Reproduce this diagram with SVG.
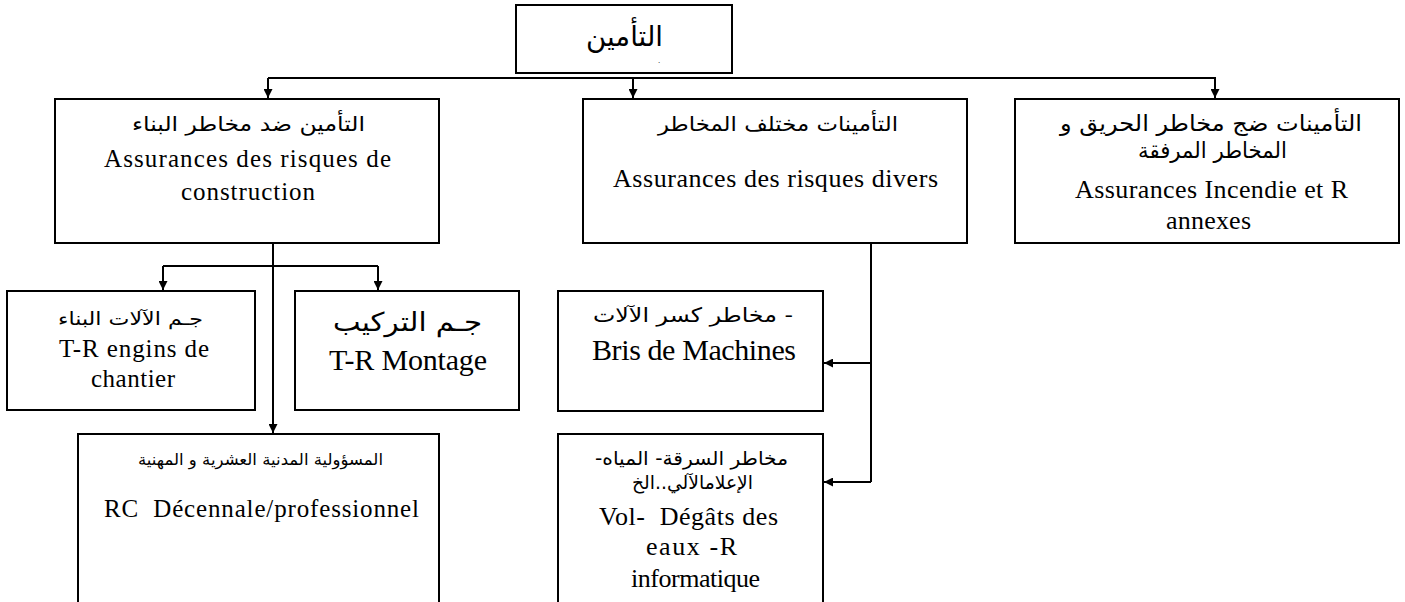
<svg xmlns="http://www.w3.org/2000/svg" width="1405" height="602" viewBox="0 0 1405 602">
<style>
.box{fill:#fff;stroke:#000;stroke-width:2}
.ln{fill:none;stroke:#000;stroke-width:2}
.fr{font-family:"Liberation Serif","Times New Roman",serif;fill:#000;text-anchor:middle;white-space:pre}
.ar{font-family:"DejaVu Sans","Noto Sans",sans-serif;fill:#000;text-anchor:middle;direction:rtl;unicode-bidi:embed}
</style>
<defs>
<marker id="ah" markerUnits="userSpaceOnUse" markerWidth="10" markerHeight="9" refX="9" refY="4.5" orient="auto">
<path d="M0,0 L9,4.5 L0,9 z" fill="#000"/>
</marker>
</defs>
<rect width="1405" height="602" fill="#fff"/>

<g id="connectors">
<path class="ln" d="M268,78 H1216"/>
<path class="ln" d="M268,78 V98" marker-end="url(#ah)"/>
<path class="ln" d="M633,78 V98" marker-end="url(#ah)"/>
<path class="ln" d="M1215,78 V98" marker-end="url(#ah)"/>
<path class="ln" d="M273,243 V433" marker-end="url(#ah)"/>
<path class="ln" d="M163,266 H378"/>
<path class="ln" d="M163,266 V290" marker-end="url(#ah)"/>
<path class="ln" d="M378,266 V290" marker-end="url(#ah)"/>
<path class="ln" d="M871,243 V482"/>
<path class="ln" d="M871,363 H824" marker-end="url(#ah)"/>
<path class="ln" d="M871,482 H824" marker-end="url(#ah)"/>
</g>

<g id="root">
<rect class="box" x="516" y="5" width="216" height="68"/>
<text class="ar" x="624.5" y="46" font-size="28" textLength="77" lengthAdjust="spacingAndGlyphs">التأمين</text>
<text x="658" y="63" font-family="Liberation Sans, sans-serif" font-size="8" fill="#000">.</text>
</g>

<g id="construction">
<rect class="box" x="55" y="99" width="384" height="144"/>
<text class="ar" x="248.5" y="131" font-size="20" textLength="233" lengthAdjust="spacingAndGlyphs">التأمين ضد مخاطر البناء</text>
<text class="fr" x="247.5" y="167" font-size="25" textLength="287" lengthAdjust="spacing">Assurances des risques de</text>
<text class="fr" x="248" y="200" font-size="25" textLength="134" lengthAdjust="spacing">construction</text>
</g>

<g id="divers">
<rect class="box" x="583" y="99" width="384" height="144"/>
<text class="ar" x="778" y="131" font-size="20" textLength="240" lengthAdjust="spacingAndGlyphs">التأمينات مختلف المخاطر</text>
<text class="fr" x="775.5" y="187" font-size="26" textLength="325" lengthAdjust="spacing">Assurances des risques divers</text>
</g>

<g id="incendie">
<rect class="box" x="1015" y="99" width="384" height="144"/>
<text class="ar" x="1211" y="131" font-size="22" textLength="302" lengthAdjust="spacingAndGlyphs">التأمينات ضج مخاطر الحريق و</text>
<text class="ar" x="1212.5" y="158" font-size="22" textLength="149" lengthAdjust="spacingAndGlyphs">المخاطر المرفقة</text>
<text class="fr" x="1211.5" y="198" font-size="26" textLength="273" lengthAdjust="spacing">Assurances Incendie et R</text>
<text class="fr" x="1208.5" y="229" font-size="26" textLength="85" lengthAdjust="spacing">annexes</text>
</g>

<g id="engins">
<rect class="box" x="7" y="291" width="248" height="119"/>
<text class="ar" x="130.5" y="325" font-size="18" textLength="145" lengthAdjust="spacingAndGlyphs">جـم الآلات البناء</text>
<text class="fr" x="134" y="357" font-size="25" textLength="150" lengthAdjust="spacing">T-R engins de</text>
<text class="fr" x="133" y="387" font-size="25" textLength="84" lengthAdjust="spacing">chantier</text>
</g>

<g id="montage">
<rect class="box" x="295" y="291" width="224" height="119"/>
<text class="ar" x="407.5" y="331" font-size="26" textLength="149" lengthAdjust="spacingAndGlyphs">جـم التركيب</text>
<text class="fr" x="408" y="370" font-size="30" textLength="158" lengthAdjust="spacing">T-R Montage</text>
</g>

<g id="rc">
<rect class="box" x="78" y="434" width="361" height="180"/>
<text class="ar" x="260.5" y="465" font-size="16" textLength="245" lengthAdjust="spacingAndGlyphs">المسؤولية المدنية العشرية و المهنية</text>
<text class="fr" x="261.5" y="517" font-size="25" textLength="315" lengthAdjust="spacing">RC  Décennale/professionnel</text>
</g>

<g id="bris">
<rect class="box" x="558" y="291" width="265" height="120"/>
<text class="ar" x="693" y="322" font-size="20" textLength="200" lengthAdjust="spacingAndGlyphs">- مخاطر كسر الآلات</text>
<text class="fr" x="694" y="360" font-size="30" textLength="204" lengthAdjust="spacing">Bris de Machines</text>
</g>

<g id="vol">
<rect class="box" x="558" y="434" width="265" height="180"/>
<text class="ar" x="691.5" y="465" font-size="19" textLength="193" lengthAdjust="spacingAndGlyphs">مخاطر السرقة- المياه-</text>
<text class="ar" x="692.5" y="489" font-size="19" textLength="121" lengthAdjust="spacingAndGlyphs">الإعلامالآلي..الخ</text>
<text class="fr" x="688.5" y="525" font-size="26" textLength="179" lengthAdjust="spacing">Vol-  Dégâts des</text>
<text class="fr" x="691.5" y="555" font-size="26" textLength="91" lengthAdjust="spacing">eaux -R</text>
<text class="fr" x="695.5" y="587" font-size="26" textLength="129" lengthAdjust="spacing">informatique</text>
</g>
</svg>
